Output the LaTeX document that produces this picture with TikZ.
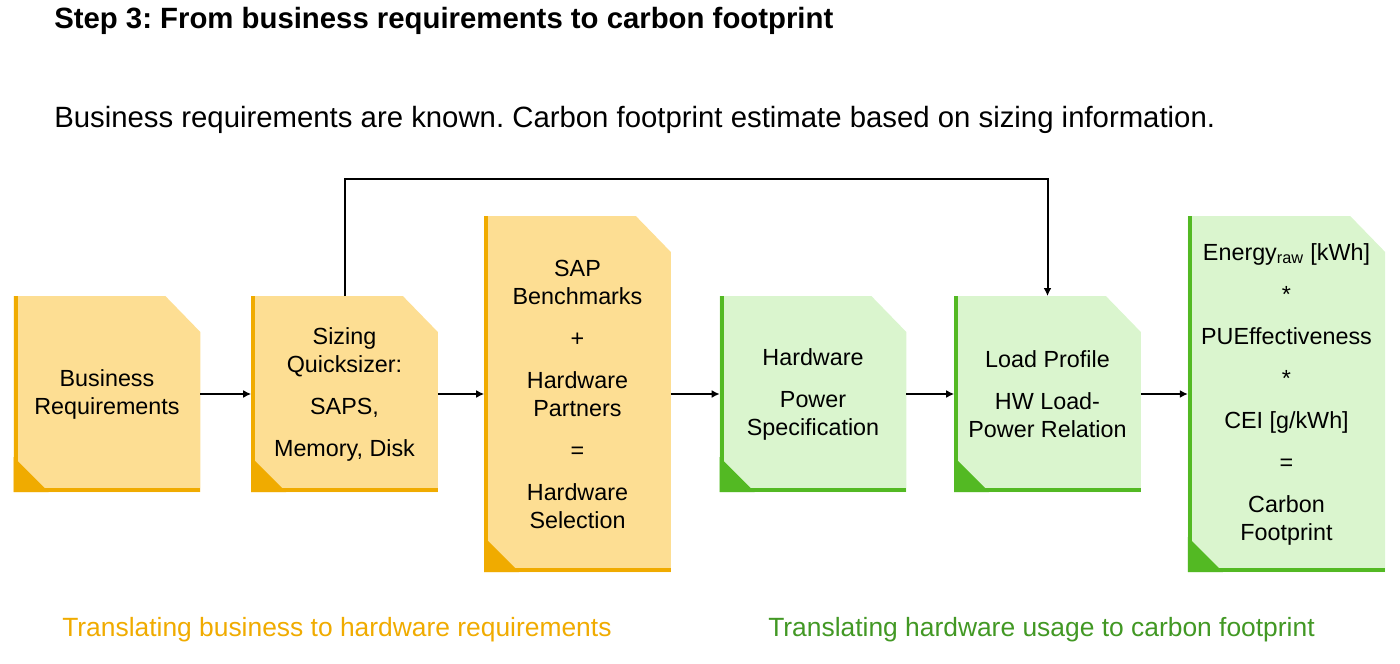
\documentclass[tikz,border=0pt]{standalone}
\usepackage{fontspec}
\setmainfont{Liberation Sans}
\usetikzlibrary{calc,positioning,arrows.meta,backgrounds}
\definecolor{sapgold}{RGB}{240,171,0}
\definecolor{goldlight}{RGB}{253,222,147}
\definecolor{sapgreen}{RGB}{83,185,35}
\definecolor{greenlight}{RGB}{218,245,206}
\definecolor{greentext}{RGB}{66,152,36}
\frenchspacing

% card outline: cut top right corner, dark bars left and bottom
\newcommand{\cardfill}[3]{%
  \fill[#2] (#1.south west) -- (#1.north west) -- ($(#1.north east)+(-35,0)$)
        -- ($(#1.north east)+(0,36)$) -- (#1.south east) -- cycle;
  \fill[#3] (#1.south west) rectangle ($(#1.north west)+(4,0)$);
  \fill[#3] (#1.south west) rectangle ($(#1.south east)+(0,-4)$);
  \fill[#3] (#1.south west) -- ++(0,-35) -- ++(35,35) -- cycle;
}

\begin{document}
\begin{tikzpicture}[x=0.75pt, y=-0.75pt,
  card/.style={inner sep=0pt, outer sep=0pt, align=center,
               font=\fontsize{17.5}{21}\selectfont,
               minimum width=140pt, minimum height=147pt},
  tall/.style={card, minimum height=267pt},
  ar/.style={-{Latex[length=6pt, width=6pt]}, line width=1.5pt},
  lbl/.style={anchor=west, inner sep=0pt, font=\fontsize{19.8}{23}\selectfont}
]
  \useasboundingbox (0,0) rectangle (1400,664);

  \node[anchor=west, inner sep=0pt, font=\fontsize{22}{26}\selectfont\bfseries] (title) at (54,21)
       {Step 3: From business requirements to carbon footprint};
  \node[anchor=west, inner sep=0pt, font=\fontsize{22}{26}\selectfont] (sub) at (54,120)
       {Business requirements are known. Carbon footprint estimate based on sizing information.};

  \node[card] (bus) at (107,394) {Business\\ Requirements};
  \node[card] (siz) at (344.5,394) {Sizing\\ Quicksizer:\\[10.5pt] SAPS,\\[10.5pt] Memory, Disk};
  \node[tall] (sap) at (577.5,394)
       {SAP\\ Benchmarks\\[10.5pt] +\\[10.5pt] Hardware\\ Partners\\[10.5pt] =\\[10.5pt] Hardware\\ Selection};
  \node[card] (hw) at (813,394) {Hardware\\[10.5pt] Power\\ Specification};
  \node[card] (load) at (1047.5,394) {Load Profile\\[10.5pt] HW Load-\\ Power Relation};
  \node[tall, minimum width=148pt] (cf) at (1286.5,394)
       {Energy\textsubscript{raw} [kWh]\\[10.5pt] *\\[10.5pt] PUEffectiveness\\[10.5pt] *\\[10.5pt]
        CEI [g/kWh]\\[10.5pt] =\\[10.5pt] Carbon\\ Footprint};

  \begin{pgfonlayer}{background}
    \cardfill{bus}{goldlight}{sapgold}
    \cardfill{siz}{goldlight}{sapgold}
    \cardfill{sap}{goldlight}{sapgold}
    \cardfill{hw}{greenlight}{sapgreen}
    \cardfill{load}{greenlight}{sapgreen}
    \cardfill{cf}{greenlight}{sapgreen}
  \end{pgfonlayer}

  \draw[ar] (bus) -- (siz);
  \draw[ar] (siz) -- (sap);
  \draw[ar] (sap) -- (hw);
  \draw[ar] (hw) -- (load);
  \draw[ar] (load) -- (cf);
  \draw[ar] (siz.north) -- ++(0,-117) -| (load.north);

  \node[lbl, text=sapgold] (left) at (62,630) {Translating business to hardware requirements};
  \node[lbl, text=greentext] (right) at (768,630) {Translating hardware usage to carbon footprint};

\end{tikzpicture}
\end{document}
